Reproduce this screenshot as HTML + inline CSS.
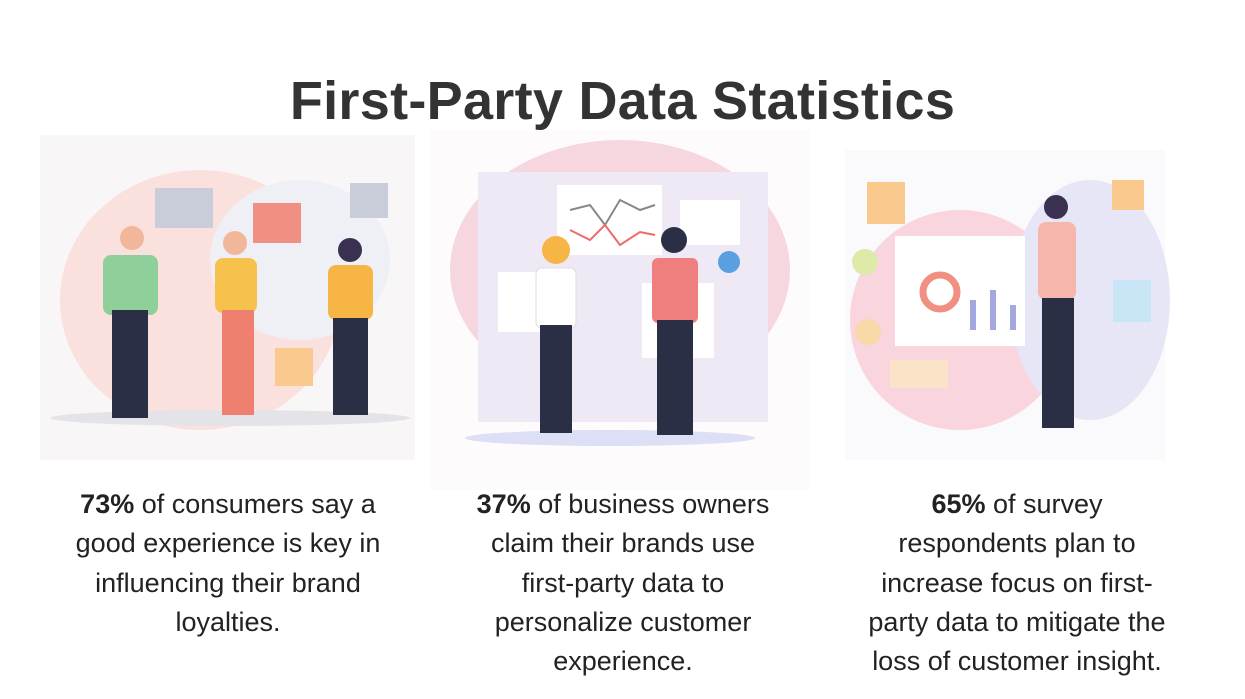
<!DOCTYPE html>
<html><head><meta charset="utf-8"><style>
body{margin:0;width:1245px;height:699px;background:#fff;overflow:hidden;font-family:"Liberation Sans",sans-serif;position:relative}
h1{position:absolute;top:70px;left:0;width:1245px;text-align:center;margin:0;font-size:54px;font-weight:bold;color:#333;letter-spacing:0.3px}
.t{position:absolute;top:485px;width:400px;text-align:center;font-size:27px;line-height:39.3px;color:#222;white-space:nowrap}
.t b{font-weight:bold}
svg{position:absolute;top:0;left:0}
</style></head><body>
<svg width="1245" height="699">
<rect x="40" y="135" width="375" height="325" fill="#f8f6f6"/>
<ellipse cx="200" cy="300" rx="140" ry="130" fill="#fbe1de"/>
<ellipse cx="300" cy="260" rx="90" ry="80" fill="#eef0f6"/>
<ellipse cx="230" cy="418" rx="180" ry="8" fill="#e4e4e8"/>
<rect x="155" y="188" width="58" height="40" fill="#c9ccd9"/>
<rect x="253" y="203" width="48" height="40" fill="#f08f82"/>
<rect x="350" y="183" width="38" height="35" fill="#c9ccd9"/>
<rect x="275" y="348" width="38" height="38" fill="#f9c98d"/>
<circle cx="132" cy="238" r="12" fill="#f2b79a"/><rect x="103" y="255" width="55" height="60" rx="8" fill="#8fcf9a"/><rect x="112" y="310" width="36" height="108" fill="#2b2f45"/>
<circle cx="235" cy="243" r="12" fill="#f2b79a"/><rect x="215" y="258" width="42" height="55" rx="8" fill="#f6c24c"/><rect x="222" y="310" width="32" height="105" fill="#ef7f6f"/>
<circle cx="350" cy="250" r="12" fill="#3a3050"/><rect x="328" y="265" width="45" height="55" rx="8" fill="#f6b545"/><rect x="333" y="318" width="35" height="97" fill="#2b2f45"/>
<rect x="430" y="130" width="380" height="360" fill="#fdfbfb"/>
<ellipse cx="620" cy="270" rx="170" ry="130" fill="#f7d7df"/>
<rect x="478" y="172" width="290" height="250" fill="#eee9f5"/>
<rect x="557" y="185" width="105" height="70" fill="#fff"/>
<polyline points="570,210 590,205 605,225 620,200 640,210 655,205" fill="none" stroke="#888" stroke-width="2"/>
<polyline points="570,230 590,240 605,225 620,245 640,232 655,235" fill="none" stroke="#ef6a6a" stroke-width="2"/>
<rect x="680" y="200" width="60" height="45" fill="#fff"/>
<rect x="498" y="272" width="45" height="60" fill="#fff"/>
<rect x="642" y="283" width="72" height="75" fill="#fff"/>
<circle cx="729" cy="262" r="11" fill="#5aa0e0"/>
<ellipse cx="610" cy="438" rx="145" ry="8" fill="#dcdff5"/>
<circle cx="556" cy="250" r="14" fill="#f6b545"/><rect x="536" y="268" width="40" height="60" rx="6" fill="#fff" stroke="#ddd"/><rect x="540" y="325" width="32" height="108" fill="#2b2f45"/>
<circle cx="674" cy="240" r="13" fill="#2b2f45"/><rect x="652" y="258" width="46" height="65" rx="6" fill="#ef7f7f"/><rect x="657" y="320" width="36" height="115" fill="#2b2f45"/>
<rect x="845" y="150" width="320" height="310" fill="#faf9fc"/>
<ellipse cx="960" cy="320" rx="110" ry="110" fill="#f9d6de"/>
<ellipse cx="1090" cy="300" rx="80" ry="120" fill="#e6e6f6"/>
<rect x="895" y="236" width="130" height="110" fill="#fff"/>
<circle cx="940" cy="292" r="17" fill="none" stroke="#f08f82" stroke-width="7"/>
<rect x="970" y="300" width="6" height="30" fill="#a5a8e0"/><rect x="990" y="290" width="6" height="40" fill="#a5a8e0"/><rect x="1010" y="305" width="6" height="25" fill="#a5a8e0"/>
<rect x="890" y="360" width="58" height="28" fill="#fbe3c8"/>
<rect x="867" y="182" width="38" height="42" fill="#f9c98d"/>
<rect x="1112" y="180" width="32" height="30" fill="#f9c98d"/>
<rect x="1113" y="280" width="38" height="42" fill="#c8e6f6"/>
<circle cx="865" cy="262" r="13" fill="#dfe9a8"/>
<circle cx="868" cy="332" r="13" fill="#f9d9a8"/>
<circle cx="1056" cy="207" r="12" fill="#3a3050"/><rect x="1038" y="222" width="38" height="78" rx="8" fill="#f7b6ac"/><rect x="1042" y="298" width="32" height="130" fill="#2b2f45"/>
</svg>
<h1>First-Party Data Statistics</h1>
<div class="t" style="left:28px"><b>73%</b> of consumers say a<br>good experience is key in<br>influencing their brand<br>loyalties.</div>
<div class="t" style="left:423px"><b>37%</b> of business owners<br>claim their brands use<br>first-party data to<br>personalize customer<br>experience.</div>
<div class="t" style="left:817px"><b>65%</b> of survey<br>respondents plan to<br>increase focus on first-<br>party data to mitigate the<br>loss of customer insight.</div>
</body></html>
